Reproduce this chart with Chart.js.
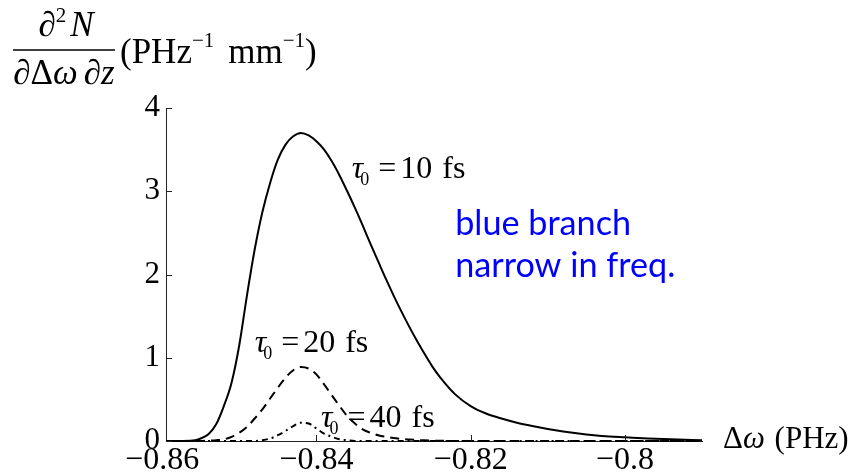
<!DOCTYPE html>
<html>
<head>
<meta charset="utf-8">
<script src="https://cdn.jsdelivr.net/npm/chart.js@4/dist/chart.umd.min.js"></script>
<style>
  html, body { margin: 0; padding: 0; background: #fff; }
  #wrap { width: 852px; height: 475px; position: relative; }
</style>
</head>
<body>
<div id="wrap"><canvas id="chart"></canvas></div>
<script>
// frequency grid, Δω (PHz)
const freq = [-0.8595, -0.858, -0.856, -0.855, -0.854, -0.853, -0.852, -0.851, -0.850, -0.849,
              -0.848, -0.847, -0.846, -0.845, -0.844, -0.843, -0.842, -0.841, -0.840, -0.839,
              -0.838, -0.837, -0.836, -0.835, -0.834, -0.833, -0.832, -0.831, -0.830, -0.829,
              -0.828, -0.827, -0.826, -0.825, -0.824, -0.822, -0.820, -0.818, -0.816, -0.814,
              -0.812, -0.810, -0.808, -0.806, -0.804, -0.802, -0.800, -0.797, -0.794, -0.790];

// spectral density per pulse duration
const tau10 = [0, 0, 0.005, 0.03, 0.08, 0.2, 0.42, 0.70, 1.15, 1.75,
               2.3, 2.75, 3.1, 3.38, 3.56, 3.66, 3.70, 3.67, 3.60, 3.50,
               3.36, 3.19, 3.00, 2.80, 2.59, 2.37, 2.16, 1.95, 1.75, 1.56,
               1.38, 1.21, 1.05, 0.90, 0.77, 0.56, 0.42, 0.33, 0.27, 0.22,
               0.18, 0.145, 0.115, 0.09, 0.07, 0.055, 0.045, 0.03, 0.02, 0.01];
const tau20 = [0, 0, 0, 0, 0.005, 0.01, 0.02, 0.05, 0.10, 0.17,
               0.27, 0.38, 0.51, 0.64, 0.76, 0.85, 0.89, 0.87, 0.80, 0.68,
               0.55, 0.42, 0.30, 0.21, 0.14, 0.10, 0.07, 0.05, 0.035, 0.025,
               0.018, 0.012, 0.008, 0.005, 0.003, 0, 0, 0, 0, 0,
               0, 0, 0, 0, 0, 0, 0, 0, 0, 0];
const tau40 = [0, 0, 0, 0, 0, 0, 0, 0, 0, 0,
               0, 0.01, 0.03, 0.07, 0.12, 0.18, 0.22, 0.21, 0.15, 0.09,
               0.05, 0.02, 0.01, 0, 0, 0, 0, 0, 0, 0,
               0, 0, 0, 0, 0, 0, 0, 0, 0, 0,
               0, 0, 0, 0, 0, 0, 0, 0, 0, 0];

// tick labels
const xTickValues = [-0.86, -0.84, -0.82, -0.8];
const xTickLabels = ['\u22120.86', '\u22120.84', '\u22120.82', '\u22120.8'];
const yTickValues = [0, 1, 2, 3, 4];
const yTickLabels = ['0', '1', '2', '3', '4'];

const serif = '"Liberation Serif", "Times New Roman", serif';

function toPoints(values) {
    return freq.map((f, i) => ({ x: f, y: values[i] }));
}

// draw text pieces one after another, returns end x
function drawRun(ctx, x, y, pieces) {
    pieces.forEach(p => {
        ctx.font = p.font;
        x += p.dx || 0;
        ctx.fillText(p.text, x, y + (p.dy || 0));
        x += ctx.measureText(p.text).width + (p.after || 0);
    });
    return x;
}

function runWidth(ctx, pieces) {
    let w = 0;
    pieces.forEach(p => {
        ctx.font = p.font;
        w += ctx.measureText(p.text).width + (p.dx || 0) + (p.after || 0);
    });
    return w;
}

function tauLabel(num) {
    return [
        { text: '\u03C4', font: 'italic 32px ' + serif },
        { text: '0', font: '18px ' + serif, dx: -3, dy: 7, after: 9 },
        { text: '=', font: '32px ' + serif, after: 4 },
        { text: num, font: '32px ' + serif, after: 10 },
        { text: 'fs', font: '32px ' + serif }
    ];
}

// curve labels, anchored in data units
const curveLabels = [
    { x: -0.8354, y: 3.16, num: '10' },
    { x: -0.8480, y: 1.07, num: '20' },
    { x: -0.8394, y: 0.17, num: '40' }
];

const annotate = {
    id: 'annotate',
    afterDraw(chart) {
        const ctx = chart.ctx;
        const xs = chart.scales.x, ys = chart.scales.y;
        const area = chart.chartArea;
        ctx.save();
        ctx.fillStyle = '#000';
        ctx.strokeStyle = '#222';
        ctx.textBaseline = 'alphabetic';
        ctx.textAlign = 'left';

        // inward tick marks
        ctx.lineWidth = 1;
        ctx.beginPath();
        xTickValues.forEach(v => {
            const px = Math.round(xs.getPixelForValue(v)) + 0.5;
            if (px < area.left + 1 || px > area.right) return;
            ctx.moveTo(px, area.bottom);
            ctx.lineTo(px, area.bottom - 6);
        });
        yTickValues.forEach(v => {
            const py = Math.round(ys.getPixelForValue(v)) + 0.5;
            ctx.moveTo(area.left, py);
            ctx.lineTo(area.left + 6, py);
        });
        ctx.stroke();

        // τ0 labels
        curveLabels.forEach(l => {
            drawRun(ctx, xs.getPixelForValue(l.x), ys.getPixelForValue(l.y), tauLabel(l.num));
        });

        // blue note
        ctx.fillStyle = '#0000ff';
        ctx.font = '30px Lato';
        const size = 30 * 176 / ctx.measureText('blue branch').width;
        ctx.font = size.toFixed(1) + 'px Lato';
        const bx = xs.getPixelForValue(-0.8220);
        ctx.fillText('blue branch', bx, ys.getPixelForValue(2.47));
        ctx.fillText('narrow in freq.', bx, ys.getPixelForValue(1.97));

        // x axis title
        ctx.fillStyle = '#000';
        drawRun(ctx, area.right + 21, area.bottom + 7, [
            { text: '\u0394', font: '31px ' + serif },
            { text: '\u03C9', font: 'italic 31px ' + serif, after: 2 },
            { text: ' (PHz)', font: '31px ' + serif }
        ]);

        // y axis title: fraction with units
        const num = [
            { text: '\u2202', font: '35px ' + serif },
            { text: '2', font: '21px ' + serif, dy: -14, after: 4 },
            { text: 'N', font: 'italic 35px ' + serif }
        ];
        const den = [
            { text: '\u2202\u0394', font: '35px ' + serif },
            { text: '\u03C9', font: 'italic 35px ' + serif, after: 6 },
            { text: '\u2202', font: '35px ' + serif },
            { text: 'z', font: 'italic 35px ' + serif }
        ];
        const barL = 13, barR = 115;
        drawRun(ctx, (barL + barR) / 2 - runWidth(ctx, num) / 2 + 2, 36, num);
        ctx.lineWidth = 1.6;
        ctx.strokeStyle = '#000';
        ctx.beginPath();
        ctx.moveTo(barL, 50);
        ctx.lineTo(barR, 50);
        ctx.stroke();
        drawRun(ctx, (barL + barR) / 2 - runWidth(ctx, den) / 2, 84, den);
        drawRun(ctx, 120, 63, [
            { text: '(PHz', font: '35px ' + serif },
            { text: '\u22121', font: '21px ' + serif, dy: -16, after: 14 },
            { text: 'mm', font: '35px ' + serif },
            { text: '\u22121', font: '21px ' + serif, dy: -16 },
            { text: ')', font: '35px ' + serif }
        ]);
        ctx.restore();
    }
};

const lineBase = {
    borderColor: '#000',
    borderWidth: 2,
    pointRadius: 0,
    fill: false,
    clip: false,
    cubicInterpolationMode: 'monotone'
};

const chart = new Chart(document.getElementById('chart').getContext('2d'), {
    type: 'line',
    data: {
        datasets: [
            { ...lineBase, label: 'τ0 = 40 fs', data: toPoints(tau40), borderDash: [6, 4, 2, 4] },
            { ...lineBase, label: 'τ0 = 20 fs', data: toPoints(tau20), borderDash: [9, 6] },
            { ...lineBase, label: 'τ0 = 10 fs', data: toPoints(tau10) }
        ]
    },
    options: {
        responsive: true,
        maintainAspectRatio: false,
        animation: false,
        devicePixelRatio: 1,
        layout: { padding: { top: 108, right: 150, left: 0, bottom: 0 } },
        plugins: {
            legend: { display: false },
            tooltip: { enabled: false }
        },
        scales: {
            x: {
                type: 'linear',
                min: -0.8595,
                max: -0.79,
                afterBuildTicks: s => { s.ticks = xTickValues.map(v => ({ value: v })); },
                afterFit: s => { s.height = 34; },
                grid: { display: false, drawTicks: false },
                border: { display: true, color: '#222', width: 1 },
                ticks: {
                    autoSkip: false,
                    maxRotation: 0,
                    padding: 0,
                    color: '#000',
                    font: { family: serif, size: 32 },
                    callback: (v, i) => xTickLabels[i]
                }
            },
            y: {
                type: 'linear',
                min: 0,
                max: 4,
                afterBuildTicks: s => { s.ticks = yTickValues.map(v => ({ value: v })); },
                afterFit: s => { s.width = 166; },
                grid: { display: false, drawTicks: false },
                border: { display: true, color: '#222', width: 1 },
                ticks: {
                    padding: 6,
                    color: '#000',
                    font: { family: serif, size: 31 },
                    callback: (v, i) => yTickLabels[i]
                }
            }
        }
    },
    plugins: [annotate]
});
</script>
</body>
</html>
